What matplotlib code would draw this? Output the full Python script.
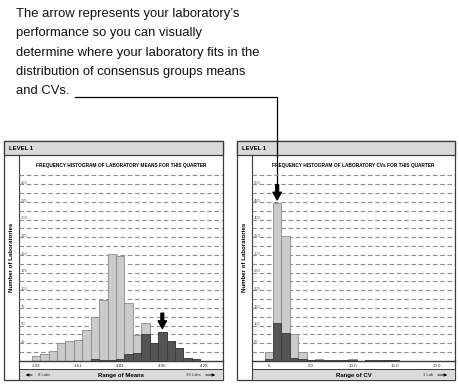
import matplotlib
matplotlib.use('Agg')
import matplotlib.pyplot as plt
from matplotlib.patches import Rectangle
import matplotlib.transforms as mtransforms

# ---- data ----
mean_bins = list(range(20))
mean_total = [7, 10, 14, 26, 28, 30, 44, 62, 86, 152, 149, 82, 37, 54, 26, 41, 28, 19, 4, 3]
mean_group = [0, 0, 0, 0, 0, 0, 0, 3, 1.5, 2, 3, 10, 12, 38, 26, 41, 28, 19, 4, 3]
mean_ticks = [0, 5, 10, 15, 20]
mean_ticklabels = ['3.39', '3.61', '3.83', '4.05', '4.28']
mean_lab_bin = 15

cv_bins = list(range(16))
cv_total = [25, 446, 354, 75, 25, 4, 6, 2, 2, 2, 6, 0, 2, 2, 2, 2]
cv_group = [5, 107, 80, 8, 7, 3, 2, 2, 2, 2, 2, 0, 2, 2, 2, 2]
cv_ticks = [0, 5, 10, 15, 20]
cv_ticklabels = ['0', '5.0', '10.0', '15.0', '20.0']
cv_lab_bin = 1

note_lines = ["The arrow represents your laboratory\u2019s",
              "performance so you can visually",
              "determine where your laboratory fits in the",
              "distribution of consensus groups means",
              "and CVs."]

W, H = 460, 384
NARROW = ['Liberation Sans Narrow', 'Liberation Sans', 'DejaVu Sans']
plt.rcParams['font.family'] = ['Liberation Sans', 'DejaVu Sans']

fig = plt.figure(figsize=(W / 100, H / 100), dpi=100)
bg = fig.add_axes([0, 0, 1, 1])
bg.set_xlim(0, W)
bg.set_ylim(H, 0)
bg.axis('off')

TOP, HEAD, BASE, FOOT, BOT = 141, 155, 361, 369, 380
EDGE = '#3a3a3a'
PANEL_GRAY = '#dadada'


def panel(x0, x1, xs, title, tsize, bins, total, group, ymax, gstep, lstep,
          ticks, ticklabels, xlabel, left_note, right_note, lab_bin, arrow_off):
    bg.add_patch(Rectangle((x0, TOP), x1 - x0, BOT - TOP, fc='white', ec=EDGE, lw=0.9))
    bg.add_patch(Rectangle((x0, TOP), x1 - x0, HEAD - TOP, fc=PANEL_GRAY, ec=EDGE, lw=0.9))
    bg.add_patch(Rectangle((xs, FOOT), x1 - xs, BOT - FOOT, fc=PANEL_GRAY, ec=EDGE, lw=0.7))
    bg.plot([xs, xs], [HEAD, BOT], color=EDGE, lw=0.8)
    bg.text(x0 + 5, (TOP + HEAD) / 2 + 0.5, 'LEVEL 1', family=NARROW, weight='bold',
            fontsize=4.3, va='center', ha='left')
    bg.text((x0 + xs) / 2 + 0.5, 257, 'Number of Laboratories', family=NARROW,
            weight='bold', fontsize=4.4, rotation=90, va='center', ha='center')
    xm = (xs + x1) / 2
    bg.text(xm, (FOOT + BOT) / 2 + 0.5, xlabel, family=NARROW, weight='bold',
            fontsize=4.3, ha='center', va='center')
    if left_note:
        bg.annotate('', xy=(xs + 4, 375), xytext=(xs + 16, 375),
                    arrowprops=dict(arrowstyle='-|>', lw=0.6, color='black', mutation_scale=4))
        bg.text(xs + 19, 375, left_note, fontsize=3, ha='left', va='center', color='#333')
    if right_note:
        bg.annotate('', xy=(x1 - 5, 375), xytext=(x1 - 20, 375),
                    arrowprops=dict(arrowstyle='-|>', lw=0.6, color='black', mutation_scale=4))
        bg.text(x1 - 22, 375, right_note, fontsize=3, ha='right', va='center', color='#333')

    ax = fig.add_axes([xs / W, (H - BASE) / H, (x1 - xs) / W, (BASE - HEAD) / H])
    ax.patch.set_alpha(0)
    ax.set_xlim(-2, 22.2)
    ax.set_ylim(0, ymax)
    for s in ['left', 'right', 'top']:
        ax.spines[s].set_visible(False)
    ax.spines['bottom'].set_color(EDGE)
    ax.spines['bottom'].set_linewidth(1.0)

    n = 1
    while gstep * n < ymax * 0.91:
        ax.axhline(gstep * n, color='#8c8c8c', lw=0.8, ls=(0, (4, 2.5)), zorder=0)
        n += 1
    tr = mtransforms.blended_transform_factory(ax.transAxes, ax.transData)
    v = lstep
    while v < ymax * 0.88:
        ax.text(0.008, v + ymax * 0.006, str(v), transform=tr, fontsize=3,
                color='#555', ha='left', va='center')
        v += lstep

    ax.bar(bins, total, width=1.0, color='#cbcbcb', edgecolor='#8a8a8a', lw=0.6, zorder=2)
    ax.bar(bins, group, width=1.0, color='#555555', edgecolor='#3a3a3a', lw=0.6, zorder=3)

    ax.set_xticks(ticks)
    ax.set_xticklabels(ticklabels, fontsize=3.2, color='#333')
    ax.set_yticks([])
    ax.tick_params(axis='x', length=0, pad=2)
    ax.text(0.5, 0.951, title, transform=ax.transAxes, family=NARROW, weight='bold',
            fontsize=tsize, ha='center', va='center')

    ax.annotate('', xy=(bins[lab_bin], total[lab_bin] + arrow_off),
                xytext=(0, 11), textcoords='offset points',
                arrowprops=dict(arrowstyle='simple,head_length=0.55,head_width=0.6,tail_width=0.2',
                                color='black', mutation_scale=10, shrinkA=0, shrinkB=0), zorder=5)
    return ax


ax1 = panel(4, 223, 19, 'FREQUENCY HISTOGRAM OF LABORATORY MEANS FOR THIS QUARTER', 3.4,
            mean_bins, mean_total, mean_group, 291.5, 12.5, 25,
            mean_ticks, mean_ticklabels, 'Range of Means', '8 Labs', '39 Labs',
            mean_lab_bin, 5)
ax2 = panel(237, 455, 252, 'FREQUENCY HISTOGRAM OF LABORATORY CVs FOR THIS QUARTER', 3.4,
            cv_bins, cv_total, cv_group, 583, 25, 50,
            cv_ticks, cv_ticklabels, 'Range of CV', None, '1 Lab',
            cv_lab_bin, 10)

# note text and its connector down to the CV arrow
for i, line in enumerate(note_lines):
    bg.text(16, 14 + i * 19.3, line, fontsize=9.4, ha='left', va='center', color='#111')
xline = 277.5
bg.plot([75, xline, xline], [97, 97, 190], color='black', lw=0.9)

fig.savefig('out.png', dpi=100)
